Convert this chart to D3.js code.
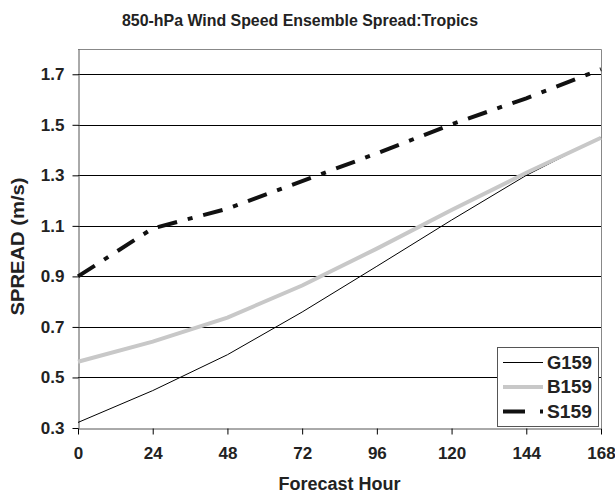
<!DOCTYPE html>
<html>
<head>
<meta charset="utf-8">
<script src="https://cdn.jsdelivr.net/npm/d3@7"></script>
<style>
  body { margin: 0; background: #fff; }
  svg { display: block; font-family: Arial, "Liberation Sans", sans-serif; font-weight: bold; }
</style>
</head>
<body>
<svg id="chart"></svg>
<script>
// forecast hours on the x axis
const hours = [0, 24, 48, 72, 96, 120, 144, 168];
// spread values (m/s)
const g159 = [0.322, 0.448, 0.59, 0.759, 0.94, 1.123, 1.30, 1.45];
const b159 = [0.562, 0.642, 0.737, 0.864, 1.01, 1.163, 1.31, 1.449];
const s159 = [0.90, 1.09, 1.168, 1.277, 1.387, 1.502, 1.605, 1.72];
const yTicks = [0.3, 0.5, 0.7, 0.9, 1.1, 1.3, 1.5, 1.7];
const seriesNames = ["G159", "B159", "S159"];

const W = 615, H = 494;
const margin = {top: 49, right: 14, bottom: 66, left: 78};

const svg = d3.select("#chart").attr("width", W).attr("height", H);

const x = d3.scaleLinear().domain([0, 168]).range([margin.left, W - margin.right]);
const y = d3.scaleLinear().domain([0.3, 1.8]).range([H - margin.bottom, margin.top]);

// gridlines
svg.append("g")
  .selectAll("line")
  .data(yTicks.slice(1))
  .join("line")
  .attr("x1", x(0)).attr("x2", x(168))
  .attr("y1", d => Math.round(y(d)) + 0.5).attr("y2", d => Math.round(y(d)) + 0.5)
  .attr("stroke", "#000").attr("stroke-width", 1);

// plot frame (top + right)
svg.append("path")
  .attr("d", `M${x(0)},${Math.round(y(1.8)) + 0.5}H${Math.round(x(168)) + 0.5}V${y(0.3)}`)
  .attr("fill", "none").attr("stroke", "#888");

// axes
const xAxis = d3.axisBottom(x).tickValues(hours).tickSize(6).tickPadding(12).tickSizeOuter(0);
const yAxis = d3.axisLeft(y).tickValues(yTicks).tickSize(6).tickPadding(8).tickFormat(d3.format(".1f")).tickSizeOuter(0);

const gx = svg.append("g").attr("transform", `translate(0,${Math.round(y(0.3)) + 0.5})`).call(xAxis);
const gy = svg.append("g").attr("transform", `translate(${Math.round(x(0)) + 0.5},0)`).call(yAxis);
[gx, gy].forEach(g => {
  g.selectAll("text").attr("font-size", 17).attr("font-family", "Arial, 'Liberation Sans', sans-serif")
    .attr("font-weight", "bold").attr("fill", "#222");
  g.select(".domain").attr("stroke", "#555");
  g.selectAll(".tick line").attr("stroke", "#000");
});

// series
const line = d3.line().x((d, i) => x(hours[i])).y(d => y(d));
const styles = [
  {data: g159, color: "#000", width: 1, dash: null},
  {data: b159, color: "#c8c8c8", width: 4, dash: null},
  {data: s159, color: "#111", width: 4, dash: "20,11,5,11"}
];
styles.forEach(s => {
  svg.append("path")
    .datum(s.data)
    .attr("d", line)
    .attr("fill", "none")
    .attr("stroke", s.color)
    .attr("stroke-width", s.width)
    .attr("stroke-dasharray", s.dash);
});

// legend
const lg = svg.append("g").attr("transform", "translate(497,347)");
lg.append("rect").attr("x", 0.5).attr("y", 0.5).attr("width", 101).attr("height", 79)
  .attr("fill", "#fff").attr("stroke", "#555");
seriesNames.forEach((name, i) => {
  const st = styles[i];
  const yy = 15.5 + i * 24.5;
  lg.append("line").attr("x1", 6).attr("x2", 46).attr("y1", yy).attr("y2", yy)
    .attr("stroke", st.color).attr("stroke-width", st.width)
    .attr("stroke-dasharray", st.dash ? "22,15,3,20" : null);
  lg.append("text").attr("x", 50).attr("y", yy + 6).attr("font-size", 18)
    .attr("textLength", 45).attr("lengthAdjust", "spacingAndGlyphs")
    .attr("fill", "#222").text(name);
});

// titles
svg.append("text").attr("x", 300).attr("y", 26).attr("text-anchor", "middle")
  .attr("font-size", 17).attr("textLength", 356).attr("lengthAdjust", "spacingAndGlyphs")
  .attr("fill", "#222").text("850-hPa Wind Speed Ensemble Spread:Tropics");
svg.append("text").attr("x", (x(0) + x(168)) / 2).attr("y", 490).attr("text-anchor", "middle")
  .attr("font-size", 18).attr("fill", "#222").text("Forecast Hour");
svg.append("text").attr("transform", `translate(24,${(y(0.3) + y(1.8)) / 2 + 8}) rotate(-90)`)
  .attr("text-anchor", "middle").attr("font-size", 18)
  .attr("textLength", 138).attr("lengthAdjust", "spacingAndGlyphs")
  .attr("fill", "#222").text("SPREAD (m/s)");
</script>
</body>
</html>
